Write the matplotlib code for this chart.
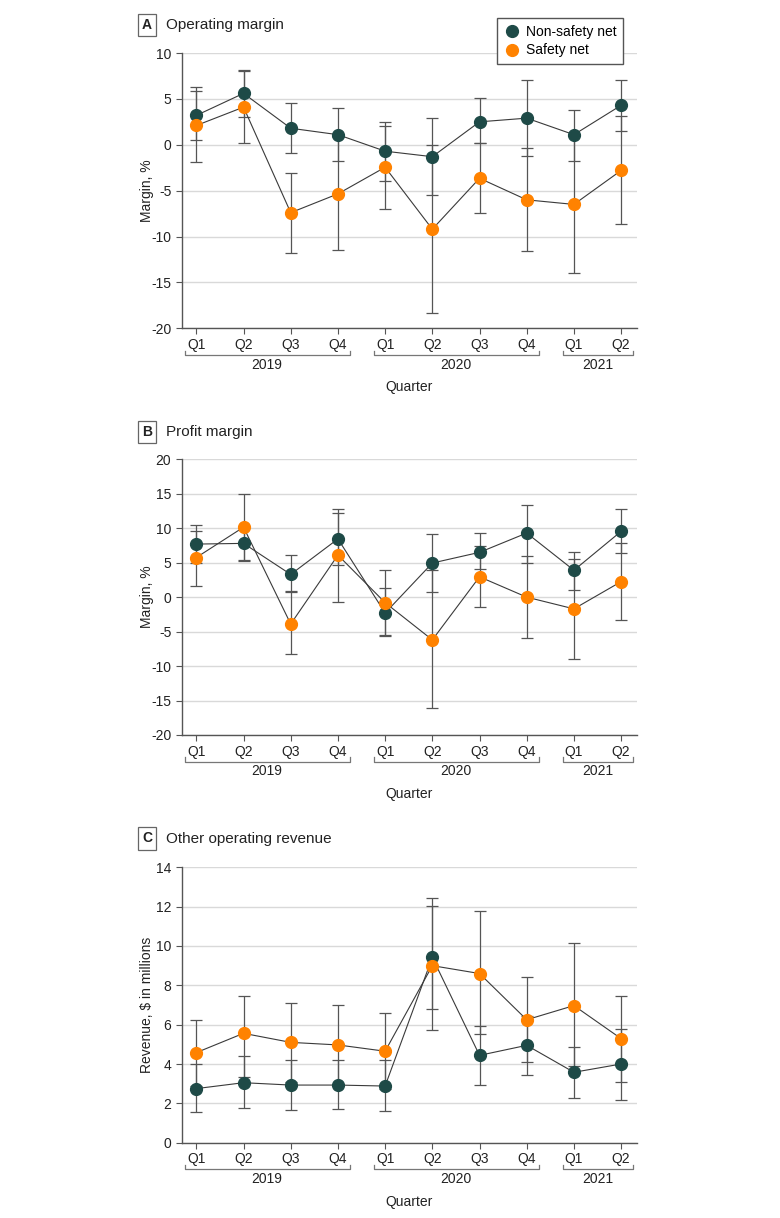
import numpy as np
import matplotlib
matplotlib.use("Agg")
import matplotlib.pyplot as plt

plt.rcParams['font.family'] = ['Liberation Sans', 'DejaVu Sans']

quarters = ["Q1", "Q2", "Q3", "Q4", "Q1", "Q2", "Q3", "Q4", "Q1", "Q2"]
years = ["2019", "2020", "2021"]
year_first = [0, 4, 8]
year_last = [3, 7, 9]

# A: operating margin, %
op_nsn = [3.2, 5.6, 1.8, 1.1, -0.7, -1.3, 2.5, 2.9, 1.1, 4.3]
op_nsn_lo = [0.5, 3.0, -0.9, -1.8, -3.9, -5.5, 0.2, -1.2, -1.8, 1.5]
op_nsn_hi = [6.3, 8.1, 4.5, 4.0, 2.45, 2.9, 5.15, 7.1, 3.75, 7.05]
op_sn = [2.1, 4.1, -7.4, -5.35, -2.45, -9.2, -3.65, -6.0, -6.5, -2.8]
op_sn_lo = [-1.9, 0.2, -11.75, -11.5, -6.95, -18.3, -7.4, -11.6, -14.0, -8.65]
op_sn_hi = [5.9, 8.0, -3.1, 0.8, 2.05, -0.05, 0.15, -0.4, 1.0, 3.1]

# B: profit margin, %
pm_nsn = [7.7, 7.8, 3.3, 8.45, -2.3, 4.95, 6.5, 9.3, 3.9, 9.55]
pm_nsn_lo = [5.0, 5.3, 0.7, 4.65, -5.6, 0.8, 4.05, 5.0, 1.05, 6.35]
pm_nsn_hi = [10.45, 10.3, 6.1, 12.2, 1.3, 9.15, 9.3, 13.35, 6.6, 12.85]
pm_sn = [5.75, 10.15, -3.9, 6.1, -0.8, -6.2, 2.95, 0.0, -1.7, 2.25]
pm_sn_lo = [1.65, 5.4, -8.25, -0.7, -5.5, -16.1, -1.45, -5.95, -8.95, -3.3]
pm_sn_hi = [9.65, 14.9, 0.85, 12.85, 3.9, 3.9, 7.35, 5.95, 5.5, 7.85]

# C: other operating revenue, $ millions
rev_nsn = [2.75, 3.05, 2.93, 2.93, 2.88, 9.42, 4.44, 4.95, 3.58, 4.0]
rev_nsn_lo = [1.55, 1.75, 1.68, 1.7, 1.6, 6.78, 2.92, 3.44, 2.25, 2.15]
rev_nsn_hi = [3.98, 4.4, 4.18, 4.18, 4.18, 12.05, 5.93, 6.45, 4.85, 5.8]
rev_sn = [4.58, 5.56, 5.1, 4.97, 4.65, 9.0, 8.6, 6.25, 6.97, 5.29]
rev_sn_lo = [2.9, 3.32, 3.1, 2.95, 2.75, 5.71, 5.53, 4.08, 3.9, 3.07]
rev_sn_hi = [6.25, 7.45, 7.12, 6.98, 6.58, 12.42, 11.78, 8.4, 10.17, 7.45]

dark = "#1e4a47"
orange = "#ff8200"
axcol = "#555555"
txt = "#222222"
fs = 10

fig = plt.figure(figsize=(7.8, 12.18), dpi=100)
W, H = 780, 1218

panels = [
    ("A", "Operating margin", "Margin, %", (-20, 10), np.arange(-20, 11, 5), 53, 328.3,
     (op_nsn, op_nsn_lo, op_nsn_hi), (op_sn, op_sn_lo, op_sn_hi), 25),
    ("B", "Profit margin", "Margin, %", (-20, 20), np.arange(-20, 21, 5), 459.3, 735,
     (pm_nsn, pm_nsn_lo, pm_nsn_hi), (pm_sn, pm_sn_lo, pm_sn_hi), 432),
    ("C", "Other operating revenue", r"Revenue, \$ in millions", (0, 14), np.arange(0, 15, 2), 867.3, 1142.7,
     (rev_nsn, rev_nsn_lo, rev_nsn_hi), (rev_sn, rev_sn_lo, rev_sn_hi), 838.5),
]

x = np.arange(len(quarters))
left, right = 181.7, 636.7

for letter, title, ylab, ylim, yticks, top, bottom, nsn, sn, ty in panels:
    ax = fig.add_axes([left / W, 1 - bottom / H, (right - left) / W, (bottom - top) / H])
    ax.set_xlim(-0.31, 9.33)
    ax.set_ylim(*ylim)
    ax.set_yticks(yticks)
    ax.set_yticklabels([str(v) for v in yticks])
    ax.yaxis.grid(True, color="#d9d9d9", lw=1)
    ax.set_axisbelow(True)
    for s in ["top", "right"]:
        ax.spines[s].set_visible(False)
    for s in ["left", "bottom"]:
        ax.spines[s].set_color(axcol)
        ax.spines[s].set_linewidth(1)
    ax.tick_params(labelcolor=txt, labelsize=fs, length=4, width=0.8, color=axcol)
    ax.tick_params(axis="x", pad=3)
    ax.set_xticks(x)
    ax.set_xticklabels(quarters)

    for (vals, lo, hi), col, lab in [(nsn, dark, "Non-safety net"), (sn, orange, "Safety net")]:
        vals = np.array(vals)
        err = [vals - np.array(lo), np.array(hi) - vals]
        ax.errorbar(x, vals, yerr=err, fmt="none", ecolor="#555555", elinewidth=0.9,
                    capsize=4, capthick=0.9, zorder=2)
        ax.plot(x, vals, color="#3a3a3a", lw=0.8, zorder=3)
        ax.plot(x, vals, "o", color=col, ms=8.5, mec=col, zorder=4, label=lab)

    ax.set_ylabel(ylab, fontsize=fs, color=txt)
    ax.yaxis.set_label_coords(-0.06, 0.5)

    # year brackets under the quarter labels
    for yr, a, b in zip(years, year_first, year_last):
        x0, x1 = a - 0.23, b + 0.25
        ax.plot([x0, x0, x1, x1], [-0.081, -0.097, -0.097, -0.081], color="#777777", lw=0.9,
                transform=ax.get_xaxis_transform(), clip_on=False)
        ax.text((a + b) / 2, -0.132, yr, transform=ax.get_xaxis_transform(),
                ha="center", va="center", fontsize=fs, color=txt)
    ax.text(0.5, -0.214, "Quarter", transform=ax.transAxes, ha="center", va="center",
            fontsize=fs, color=txt)

    fig.text(147 / W, 1 - ty / H, letter, ha="center", va="center", fontsize=10,
             fontweight="bold", color=txt,
             bbox=dict(boxstyle="square,pad=0.3", fc="white", ec="#666666", lw=0.9))
    fig.text(165.7 / W, 1 - ty / H, title, ha="left", va="center", fontsize=11, color=txt)

    if letter == "A":
        leg = ax.legend(loc="upper right", bbox_to_anchor=(623.3 / W, 1 - 18.3 / H),
                        bbox_transform=fig.transFigure, fancybox=False, framealpha=1,
                        edgecolor="#555555", fontsize=fs, handletextpad=0.4,
                        borderpad=0.5, labelspacing=0.3, handlelength=1.2,
                        borderaxespad=0)
        leg.get_frame().set_linewidth(1)

fig.savefig("out.png", dpi=100)
